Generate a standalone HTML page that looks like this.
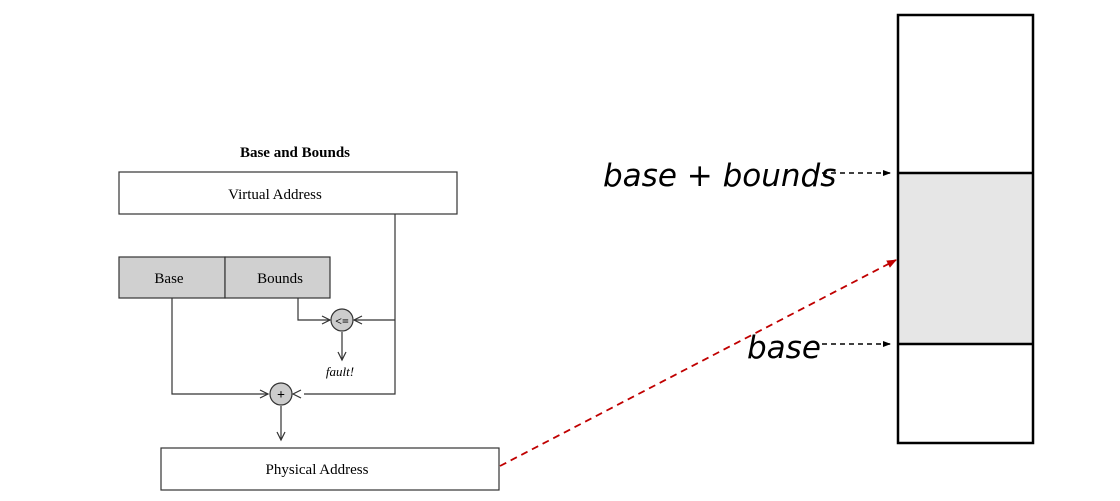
<!DOCTYPE html>
<html><head><style>body{margin:0;background:#fff}</style></head><body>
<svg width="1120" height="496" viewBox="0 0 1120 496" xmlns="http://www.w3.org/2000/svg">
<defs>
<marker id="ab" markerWidth="8" markerHeight="8" refX="7" refY="4" orient="auto" markerUnits="userSpaceOnUse"><path d="M0,1 L8,4 L0,7 Z" fill="#000"/></marker>
<marker id="ar" markerWidth="10" markerHeight="10" refX="9" refY="5" orient="auto" markerUnits="userSpaceOnUse"><path d="M0,1 L10,5 L0,9 Z" fill="#c00000"/></marker>
</defs>
<g font-family="Liberation Serif, serif" fill="none" stroke="#333" stroke-width="1.2">
<text x="295" y="157" font-size="15" font-weight="bold" text-anchor="middle" fill="#000" stroke="none">Base and Bounds</text>
<rect x="119" y="172" width="338" height="42" fill="#fff"/>
<text x="275" y="199" font-size="15" text-anchor="middle" fill="#000" stroke="none">Virtual Address</text>
<rect x="119" y="257" width="106" height="41" fill="#d0d0d0"/>
<rect x="225" y="257" width="105" height="41" fill="#d0d0d0"/>
<text x="169" y="283" font-size="15" text-anchor="middle" fill="#000" stroke="none">Base</text>
<text x="280" y="283" font-size="15" text-anchor="middle" fill="#000" stroke="none">Bounds</text>
<path d="M395,214 V394 H304"/>
<path d="M395,320 H354"/>
<path d="M298,298 V320 H330"/>
<path d="M172,298 V394 H268"/>
<path d="M342,332 V360"/>
<path d="M281,406 V440"/>
<path d="M322,316 L330,320 L322,324 M362,316 L354,320 L362,324 M260,390 L268,394 L260,398 M301,390 L293,394 L301,398 M338,352 L342,360 L346,352 M277,432 L281,440 L285,432"/>
<circle cx="342" cy="320" r="11" fill="#ccc"/>
<text x="342" y="325" font-size="12" text-anchor="middle" fill="#000" stroke="none" font-weight="bold">&lt;=</text>
<circle cx="281" cy="394" r="11" fill="#ccc"/>
<text x="281" y="399" font-size="14" text-anchor="middle" fill="#000" stroke="none" font-weight="bold">+</text>
<text x="340" y="376" font-size="13" font-style="italic" text-anchor="middle" fill="#000" stroke="none">fault!</text>
<rect x="161" y="448" width="338" height="42" fill="#fff"/>
<text x="317" y="474" font-size="15" text-anchor="middle" fill="#000" stroke="none">Physical Address</text>
</g>
<rect x="898" y="173" width="135" height="171" fill="#e6e6e6"/>
<rect x="898" y="15" width="135" height="428" fill="none" stroke="#000" stroke-width="2.5"/>
<line x1="898" y1="173" x2="1033" y2="173" stroke="#000" stroke-width="2.5"/>
<line x1="898" y1="344" x2="1033" y2="344" stroke="#000" stroke-width="2.5"/>
<line x1="822" y1="173" x2="890" y2="173" stroke="#000" stroke-width="1.5" stroke-dasharray="5,4" marker-end="url(#ab)"/>
<line x1="822" y1="344" x2="890" y2="344" stroke="#000" stroke-width="1.5" stroke-dasharray="5,4" marker-end="url(#ab)"/>
<line x1="500" y1="466" x2="896" y2="260" stroke="#c00000" stroke-width="1.8" stroke-dasharray="7,5" marker-end="url(#ar)"/>
<g font-family="DejaVu Sans, Liberation Sans, sans-serif" font-style="italic" font-size="31" fill="#000">
<text x="603" y="186">base + bounds</text>
<text x="747" y="358">base</text>
</g>
</svg>
</body></html>
